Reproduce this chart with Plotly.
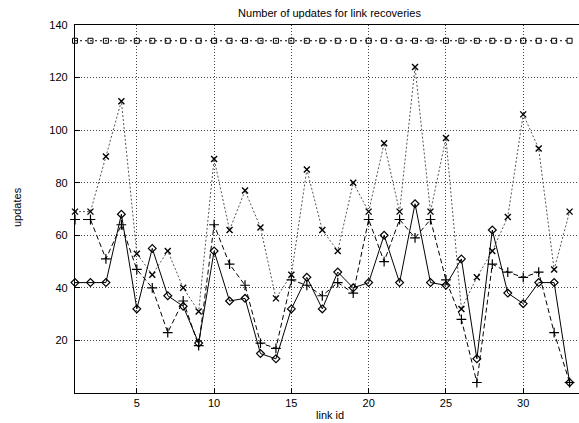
import plotly.graph_objects as go

link_id = list(range(1, 34))

upd_square = [134] * 33
upd_cross = [69, 69, 90, 111, 53, 45, 54, 40, 31, 89, 62, 77, 63, 36, 45, 85, 62, 54,
             80, 69, 95, 69, 124, 69, 97, 32, 44, 54, 67, 106, 93, 47, 69]
upd_plus = [66, 66, 51, 64, 47, 40, 23, 35, 18, 64, 49, 41, 19, 17, 43, 41, 37, 42,
            38, 66, 50, 66, 59, 66, 43, 28, 4, 49, 46, 44, 46, 23, 4]
upd_diamond = [42, 42, 42, 68, 32, 55, 37, 33, 19, 54, 35, 36, 15, 13, 32, 44, 32, 46,
               40, 42, 60, 42, 72, 42, 41, 51, 13, 62, 38, 34, 42, 42, 4]

x_ticks = [5, 10, 15, 20, 25, 30]
y_ticks = [20, 40, 60, 80, 100, 120, 140]

FONT = "Liberation Sans, Arial, sans-serif"
W, H = 579, 423
L, T, B = 75, 24.7, 29.7

fig = go.Figure()

fig.add_trace(go.Scatter(
    x=link_id, y=upd_square, mode="lines+markers", cliponaxis=False,
    line=dict(color="black", width=1.2, dash="2px,3px"),
    marker=dict(symbol="square-open", size=5, color="black", line=dict(width=1)),
))
fig.add_trace(go.Scatter(
    x=link_id, y=upd_cross, mode="lines+markers", cliponaxis=False,
    line=dict(color="#555555", width=1, dash="2px,2px"),
    marker=dict(symbol="x-thin", size=6, color="black", line=dict(width=1.4, color="black")),
))
fig.add_trace(go.Scatter(
    x=link_id, y=upd_plus, mode="lines+markers", cliponaxis=False,
    line=dict(color="black", width=1, dash="5px,3px"),
    marker=dict(symbol="cross-thin", size=7, color="black", line=dict(width=1.2, color="black")),
))
fig.add_trace(go.Scatter(
    x=link_id, y=upd_diamond, mode="lines+markers", cliponaxis=False,
    line=dict(color="black", width=1),
    marker=dict(symbol="diamond-open", size=6, color="black", line=dict(width=1.2)),
))

axis_common = dict(
    showgrid=True, gridcolor="#444444", gridwidth=1, griddash="1px,2px",
    zeroline=False, showline=True, linecolor="black", linewidth=1.2,
    ticks="inside", ticklen=5, tickcolor="black", mirror=True,
    tickfont=dict(family=FONT, size=11, color="black"),
)

fig.update_xaxes(range=[1, 1 + (W - L) / 15.456], tickvals=x_ticks, **axis_common)
fig.update_yaxes(range=[0, 140], tickvals=y_ticks, ticklabelstandoff=4, **axis_common)

fig.update_layout(
    width=W, height=H,
    margin=dict(l=L, r=0, t=T, b=B, pad=0),
    paper_bgcolor="white", plot_bgcolor="white",
    showlegend=False,
    font=dict(family=FONT, size=11, color="black"),
    title=dict(text="Number of updates for link recoveries", xref="paper",
               x=(329.5 - L) / (W - L), xanchor="center",
               yref="container", y=1 - 13 / H, yanchor="middle",
               font=dict(family=FONT, size=11, color="black")),
    annotations=[
        dict(text="updates", xref="paper", yref="paper",
             x=(17 - L) / (W - L), y=(H - B - 207) / (H - T - B),
             xanchor="center", yanchor="middle", textangle=-90, showarrow=False,
             font=dict(family=FONT, size=11, color="black")),
        dict(text="link id", xref="paper", yref="paper",
             x=(330 - L) / (W - L), y=-(415 - (H - B)) / (H - T - B),
             xanchor="center", yanchor="middle", showarrow=False,
             font=dict(family=FONT, size=11, color="black")),
    ],
)

fig.write_html("out.html")
